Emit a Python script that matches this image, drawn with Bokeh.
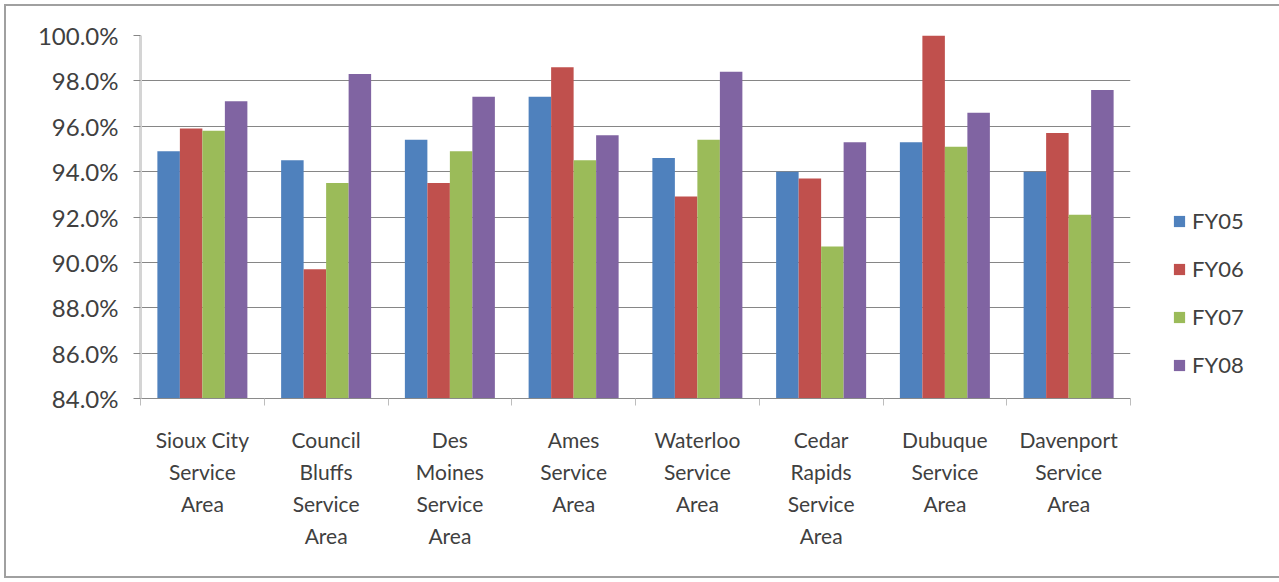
import numpy as np
from bokeh.plotting import figure
from bokeh.models import (Range1d, FixedTicker, NumeralTickFormatter, Legend, LegendItem)
from bokeh.embed import file_html
from bokeh.resources import INLINE

categories = ["Sioux City\nService\nArea", "Council\nBluffs\nService\nArea",
              "Des\nMoines\nService\nArea", "Ames\nService\nArea",
              "Waterloo\nService\nArea", "Cedar\nRapids\nService\nArea",
              "Dubuque\nService\nArea", "Davenport\nService\nArea"]
series_names = ["FY05", "FY06", "FY07", "FY08"]
fy05 = [94.9, 94.5, 95.4, 97.3, 94.6, 94.0, 95.3, 94.0]
fy06 = [95.9, 89.7, 93.5, 98.6, 92.9, 93.7, 100.0, 95.7]
fy07 = [95.8, 93.5, 94.9, 94.5, 95.4, 90.7, 95.1, 92.1]
fy08 = [97.1, 98.3, 97.3, 95.6, 98.4, 95.3, 96.6, 97.6]
y_ticks = [0.84, 0.86, 0.88, 0.90, 0.92, 0.94, 0.96, 0.98, 1.00]
colors = ["#4F81BD", "#C0504D", "#9BBB59", "#8064A2"]

FONT = "Lato"
TEXT = "#404040"
n = len(categories)

p = figure(frame_width=990, frame_height=363, output_backend="svg", toolbar_location=None,
           x_range=Range1d(0, n), y_range=Range1d(0.84, 1.0),
           min_border_left=134, min_border_top=29, min_border_right=143, min_border_bottom=178)
p.margin = (6, 6, 6, 6)
p.styles = {"outline": "2px solid #a0a0a0", "outline-offset": "0px"}
p.outline_line_color = None
p.background_fill_color = "white"
p.border_fill_color = "white"

bar_w = 1.0 / (4 + 1.5)
offsets = [(-1.5 + k) * bar_w for k in range(4)]
renderers = []
for k, vals in enumerate([fy05, fy06, fy07, fy08]):
    xs = np.arange(n) + 0.5 + offsets[k]
    tops = np.array(vals) / 100.0
    r = p.vbar(x=xs, width=bar_w, top=tops, bottom=0.84,
               fill_color=colors[k], line_color=None)
    renderers.append(r)

# grid
p.xgrid.visible = False
p.ygrid.grid_line_color = "#868686"
p.ygrid.grid_line_width = 1
p.ygrid.ticker = FixedTicker(ticks=y_ticks)

# y axis
ya = p.yaxis[0]
ya.ticker = FixedTicker(ticks=y_ticks, minor_ticks=[])
ya.formatter = NumeralTickFormatter(format="0.0%")
ya.axis_line_color = "#d4d4d4"
ya.axis_line_width = 3
ya.major_tick_line_color = "#868686"
ya.major_tick_out = 7
ya.major_tick_in = 0
ya.minor_tick_line_color = None
ya.major_label_standoff = 15
ya.major_label_text_font = FONT
ya.major_label_text_font_size = "24px"
ya.major_label_text_color = TEXT

# x axis
xa = p.xaxis[0]
xa.ticker = FixedTicker(ticks=list(np.arange(n) + 0.5), minor_ticks=list(range(n + 1)))
xa.major_label_overrides = {float(i + 0.5): c for i, c in enumerate(categories)}
xa.axis_line_color = "#8a8a8a"
xa.major_tick_line_color = None
xa.major_tick_out = 0
xa.major_tick_in = 0
xa.minor_tick_line_color = "#bdbdbd"
xa.minor_tick_out = 7
xa.minor_tick_in = 0
xa.major_label_standoff = 21
xa.major_label_text_font = FONT
xa.major_label_text_font_size = "21px"
xa.major_label_text_color = TEXT
xa.major_label_text_line_height = 1.28

legend = Legend(items=[LegendItem(label=s, renderers=[r]) for s, r in zip(series_names, renderers)],
                location=(42, 20), orientation="vertical",
                glyph_width=14, glyph_height=14, label_standoff=6,
                label_text_font=FONT, label_text_font_size="22px", label_text_color=TEXT,
                label_height=20, spacing=21, padding=0, margin=0,
                border_line_color=None, background_fill_alpha=0)
p.add_layout(legend, "right")

open("out.html", "w").write(file_html(p, INLINE))
